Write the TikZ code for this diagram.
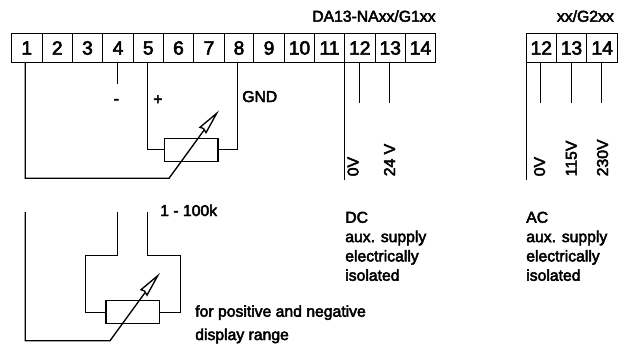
\documentclass[tikz,border=0pt]{standalone}
\usepackage{fontspec}
\setmainfont{Liberation Sans}
\newfontfamily\fbtext[FakeBold=3]{Liberation Sans}
\tikzset{
  wire/.style={line width=1pt,line join=miter},
  num/.style={inner sep=0pt,font=\fbtext\fontsize{14.4}{15}\selectfont},
  lab/.style={inner sep=0pt,font=\fbtext\fontsize{11.8}{13}\selectfont,anchor=base west},
  rlab/.style={lab,rotate=90},
  block/.style={lab,align=left,anchor=north west,font=\fbtext\fontsize{11.8}{14.5}\selectfont},
  res/.style={draw,line width=1pt,inner sep=0pt,minimum width=40pt,minimum height=17.25pt}
}
\begin{document}
\begin{tikzpicture}[x=0.75pt,y=-0.75pt]
\useasboundingbox (0,0) rectangle (625,344);
% terminals
\foreach \n/\xa/\xb in {1/11.3/42.3,2/42.3/72.3,3/72.3/102.7,4/102.7/133.3,5/133.3/163.3,6/163.3/193.7,7/193.7/224.3,8/224.3/253.7,9/253.7/284.3,10/284.3/314.7,11/314.7/344.3,12/344.3/375.3,13/375.3/405.3,14/405.3/435.5}{
  \draw[wire] (\xa,33.3) rectangle (\xb,62.5);
  \node[num] (t\n) at ({(\xa+\xb)/2},48) {\n};
}
\foreach \n/\xa/\xb in {12/526.3/556.3,13/556.3/586.7,14/586.7/617.7}{
  \draw[wire] (\xa,33.3) rectangle (\xb,62.5);
  \node[num] (u\n) at ({(\xa+\xb)/2},48) {\n};
}
% upper potentiometer
\node[res] (rA) at (191.2,149.8) {};
\coordinate (a1) at (25.3,62.5);
\coordinate (a2) at (25.3,178.3);
\coordinate (a3) at (169,178.3);
\coordinate (a4) at (216.7,113.3);
\coordinate (a5) at (204.5,129.5);
\draw[wire] (a1) -- (a2) -- (a3) -- (a5);
\draw[wire] (200,127.3) -- (a4) -- (206,132.7) -- (203.5,128.5) -- cycle;
\coordinate (b5) at (147.7,62.5);
\coordinate (b8) at (237.3,62.5);
\draw[wire] (b5) |- (rA.west);
\draw[wire] (b8) |- (rA.east);
\coordinate (c4a) at (117.3,62.5);
\coordinate (c4b) at (117.3,83.5);
\draw[wire] (c4a) -- (c4b);
% lower potentiometer
\node[res] (rB) at (132.7,312.3) {};
\coordinate (d1) at (25.3,212);
\coordinate (d2) at (25.3,340.7);
\coordinate (d3) at (110,340.7);
\coordinate (d4) at (157.7,275.7);
\coordinate (d5) at (145.5,292);
\draw[wire] (d1) -- (d2) -- (d3) -- (d5);
\draw[wire] (141,289.7) -- (d4) -- (147,295.2) -- (144.5,291) -- cycle;
\coordinate (e1) at (117.3,212);
\coordinate (e2) at (117.3,255.7);
\coordinate (e3) at (85.3,255.7);
\coordinate (f1) at (147.7,212);
\coordinate (f2) at (147.7,255.7);
\coordinate (f3) at (180.3,255.7);
\draw[wire] (e1) -- (e2) -- (e3) |- (rB.west);
\draw[wire] (f1) -- (f2) -- (f3) |- (rB.east);
% supply wires
\foreach \na/\nb/\xx/\yy in {g1/g2/344.3/180,g3/g4/359.3/102.7,g5/g6/389.3/102.7,h1/h2/526.3/180,h3/h4/540.7/102.7,h5/h6/571.3/102.7,h7/h8/601.3/102.7}{
  \coordinate (\na) at (\xx,62.5);
  \coordinate (\nb) at (\xx,\yy);
  \draw[wire] (\na) -- (\nb);
}
% labels
\node[lab] (l0) at (312,21.7) {DA13-NAxx/G1xx};
\node[lab] (l1) at (556.7,21.7) {xx/G2xx};
\node[lab] (l2) at (113.5,104) {-};
\node[lab] (l3) at (153,104.5) {+};
\node[lab] (l4) at (242,102) {GND};
\node[lab] (l5) at (160,216) {1 - 100k};
\node[lab] (l6) at (195,316.7) {for positive and negative};
\node[lab] (l7) at (195,340) {display range};
\node[block] (l8) at (345,211.5) {DC\\aux. supply\\electrically\\isolated};
\node[block] (l9) at (526,211.5) {AC\\aux. supply\\electrically\\isolated};
\node[rlab] (v1) at (358.5,176.5) {0V};
\node[rlab] (v2) at (395,176.5) {24 V};
\node[rlab] (v3) at (545,176.5) {0V};
\node[rlab] (v4) at (576.7,176.5) {115V};
\node[rlab] (v5) at (608,176.5) {230V};
\end{tikzpicture}
\end{document}
